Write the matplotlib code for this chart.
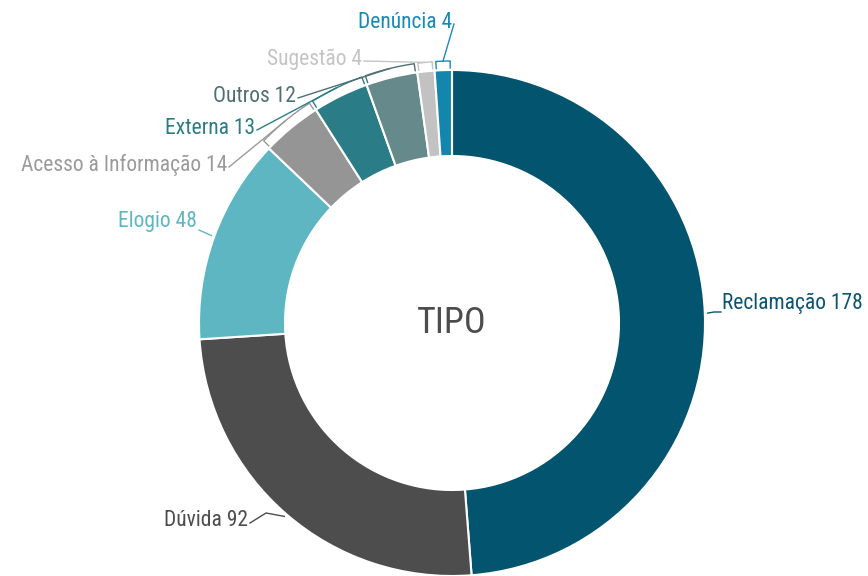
import numpy as np
import matplotlib.pyplot as plt
from matplotlib import font_manager

# dados do grafico
tipos = ['Reclamação', 'Dúvida', 'Elogio', 'Acesso à Informação',
         'Externa', 'Outros', 'Sugestão', 'Denúncia']
valores = [178, 92, 48, 14, 13, 12, 4, 4]
cores = ['#02546f', '#4d4d4d', '#5db6c1', '#959595',
         '#2a7d86', '#66898b', '#c2c2c2', '#1486ad']
cores_txt = ['#0b5472', '#4d4d4d', '#5db6c1', '#9a9a9a',
             '#2a7d86', '#4f6f72', '#c4c4c4', '#1a8ab5']

# procura uma fonte estreita, senao usa Roboto
fonte, tam = 'Roboto', 13
for f in ['Liberation Sans Narrow', 'DejaVu Sans Condensed', 'Roboto Condensed']:
    try:
        font_manager.findfont(f, fallback_to_default=False)
        fonte, tam = f, 15.5
        break
    except Exception:
        pass
fam = [fonte, 'DejaVu Sans']

W, H = 868, 576
fig = plt.figure(figsize=(W / 100, H / 100), dpi=100)
ax = fig.add_axes([0, 0, 1, 1])

cx, cy, R, larg = 452, 576 - 323, 253, 86
ax.pie(valores, colors=cores, startangle=90, counterclock=False,
       radius=R, center=(cx, cy),
       wedgeprops=dict(width=larg, edgecolor='white', linewidth=1.5))
ax.set_xlim(0, W)
ax.set_ylim(0, H)
ax.set_aspect('equal')
ax.axis('off')

ax.text(cx, cy, 'TIPO', ha='center', va='center', fontsize=26,
        color='#4d4d4d', family=fam)


def ponto(ang, r):
    # angulo em graus, sentido horario a partir do topo
    a = np.radians(ang)
    return cx + r * np.sin(a), cy + r * np.cos(a)


total = sum(valores)
acum = np.cumsum([0] + valores)
ini = acum[:-1] / total * 360
fim = acum[1:] / total * 360
meio = (ini + fim) / 2

# posicoes dos textos (pixel, y de cima) e alinhamento
pos_txt = {
    'Reclamação': (722, 303, 'left'),
    'Dúvida': (248, 521, 'right'),
    'Elogio': (197, 222, 'right'),
    'Acesso à Informação': (227, 165, 'right'),
    'Externa': (255, 128, 'right'),
    'Outros': (296, 96, 'right'),
    'Sugestão': (362, 59, 'right'),
    'Denúncia': (452, 22, 'right'),
}

for i, t in enumerate(tipos):
    x, y, ha = pos_txt[t]
    y = H - y
    ax.text(x, y, f'{t} {valores[i]}', ha=ha, va='center', fontsize=tam,
            color=cores_txt[i], family=fam)
    if valores[i] < 20:
        # colchete em volta da fatia
        rb = R + 9
        angs = np.linspace(ini[i] + 0.4, fim[i] - 0.4, 20)
        xs, ys = ponto(angs, rb)
        x0, y0 = ponto(angs[0], R + 2)
        x1, y1 = ponto(angs[-1], R + 2)
        ax.plot(np.r_[x0, xs, x1], np.r_[y0, ys, y1], color=cores_txt[i], lw=1)
        px, py = ponto(meio[i], rb)
        ax.plot([x + 2, px], [y - 2, py], color=cores_txt[i], lw=1)
    elif ha == 'left':
        px, py = ponto(meio[i], R + 3)
        ax.plot([px, x - 8, x - 1], [py, y - 9, y - 9], color=cores_txt[i], lw=1)
    elif t == 'Dúvida':
        # zigue-zague como no original
        px, py = ponto(meio[i], R + 3)
        ax.plot([x + 2, x + 18, px], [y - 2, y + 8, py],
                color=cores_txt[i], lw=1)
    else:
        px, py = ponto(meio[i], R + 3)
        ax.plot([x + 2, px], [y - 8, py], color=cores_txt[i], lw=1)

fig.savefig('out.png', dpi=100)
